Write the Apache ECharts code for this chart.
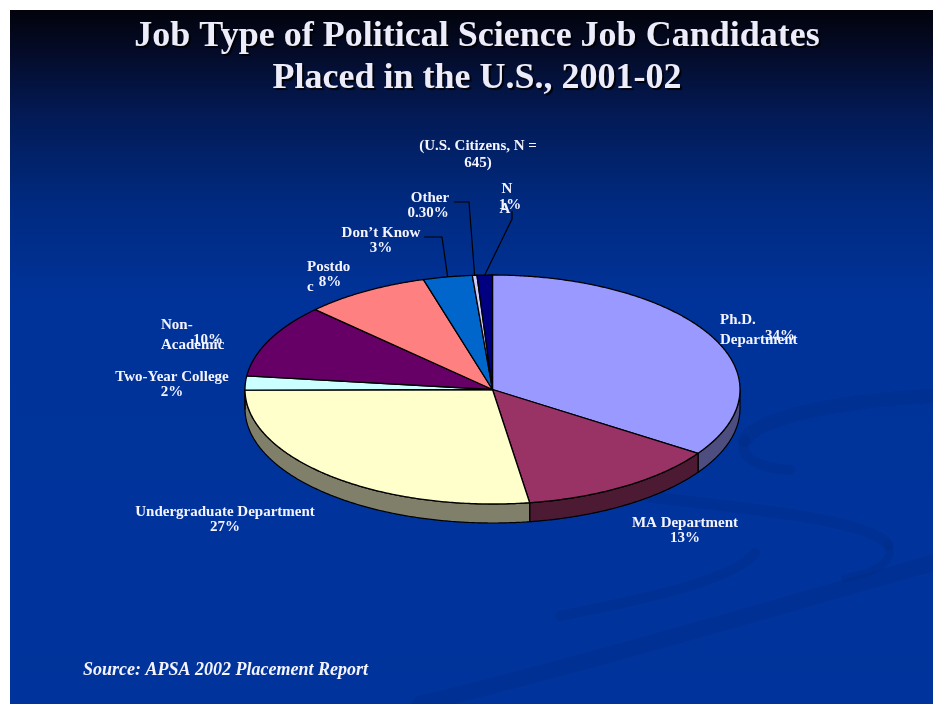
<!DOCTYPE html>
<html><head><meta charset="utf-8">
<script src="https://cdn.jsdelivr.net/npm/echarts@6/dist/echarts.min.js"></script>
<style>html,body{margin:0;padding:0;background:#fff}#c{width:933px;height:704px}</style>
</head><body><div id="c"></div>
<script>
// ---------- data ----------
const categories = ['Ph.D. Department','MA Department','Undergraduate Department','Two-Year College','Non-Academic','Postdoc','Don’t Know','Other','NA'];
const values = [34.4, 13.2, 27.3, 2.0, 10.4, 8.2, 3.2, 0.3, 1.0];
const labelNameLines = [['Ph.D.','Department'],['MA Department'],['Undergraduate Department'],['Two-Year College'],['Non-','Academic'],['Postdo','c'],['Don’t Know'],['Other'],['N','A']];
const titleLines = ['Job Type of Political Science Job Candidates','Placed in the U.S., 2001-02'];
const subtitleLines = ['(U.S. Citizens, N =','645)'];
const sourceText = 'Source: APSA 2002 Placement Report';

// ---------- styles / layout ----------
const sliceColors = ['#9999ff','#993366','#ffffcc','#ccffff','#660066','#ff8080','#0066cc','#ccccff','#000080'];
const sideColors  = ['#4d4d80','#4d1a33','#80806a','#668080','#330033','#804040','#003366','#666680','#000040'];
const PIE = {cx:492.5, cy:389.5, rx:247.5, ry:114.5, depth:19};
const LABEL_LAYOUT = [
 {lines:[[720,320,'left'],[720,340,'left']], pct:[780,336]},
 {lines:[[685,523,'center']], pct:[685,538]},
 {lines:[[225,512,'center']], pct:[225,527]},
 {lines:[[172,377,'center']], pct:[172,392]},
 {lines:[[161,325,'left'],[161,345,'left']], pct:[208,340]},
 {lines:[[307,267,'left'],[307,287,'left']], pct:[330,282]},
 {lines:[[381,233,'center']], pct:[381,248], leader:[[424,237],[442,237]]},
 {lines:[[430,198,'center']], pct:[428,213], leader:[[454,202],[469,202]]},
 {lines:[[507,189,'center'],[505,209,'center']], pct:[510,205], leader:[[512,211],[512,219]]}
];
const LABEL_FONT = 'bold 15px "Liberation Serif", "Times New Roman", serif';
const TEXT_COLOR = '#f4f4ff';

// ---------- geometry ----------
const total = values.reduce((a,b)=>a+b,0);
const starts = []; let acc = 0;
values.forEach(v => { starts.push(acc/total*360); acc += v; });
function rimPoint(deg, dy){ const t = deg*Math.PI/180; return [PIE.cx + PIE.rx*Math.sin(t), PIE.cy - PIE.ry*Math.cos(t) + (dy||0)]; }
function arc(a0, a1, dy){ const n = Math.max(2, Math.ceil(Math.abs(a1-a0)/0.5)+1); const pts=[]; for(let i=0;i<n;i++) pts.push(rimPoint(a0+(a1-a0)*i/(n-1), dy)); return pts; }
function pctText(v){ return v < 1 ? v.toFixed(2)+'%' : Math.round(v)+'%'; }

function renderSide(params, api){
  const i = params.dataIndex, v = api.value(0);
  const a0 = starts[i], a1 = a0 + v/total*360;
  const s = Math.max(a0, 90), e = Math.min(a1, 270);
  if (s >= e) return {type:'group', children:[]};
  const pts = arc(s, e, 0).concat(arc(e, s, PIE.depth));
  return {type:'polygon', shape:{points:pts}, style:{fill:sideColors[i], stroke:'#000', lineWidth:1.2, lineJoin:'round'}};
}
function renderTop(params, api){
  const i = params.dataIndex, v = api.value(0);
  const a0 = starts[i], a1 = a0 + v/total*360;
  const pts = [[PIE.cx, PIE.cy]].concat(arc(a0, a1, 0));
  return {type:'polygon', shape:{points:pts}, style:{fill:sliceColors[i], stroke:'#000', lineWidth:1.3, lineJoin:'round'}};
}

// ---------- graphics ----------
const graphics = [];
graphics.push({type:'rect', z:0, shape:{x:0,y:0,width:933,height:704}, style:{fill:'#ffffff'}});
graphics.push({type:'rect', z:0, shape:{x:10,y:10,width:923,height:694}, style:{fill:new echarts.graphic.LinearGradient(0,0,0,1,[
  {offset:0,color:'#02030c'},{offset:0.06,color:'#040b28'},{offset:0.15,color:'#031a55'},{offset:0.28,color:'#002a80'},{offset:0.42,color:'#00339a'},{offset:1,color:'#00349c'}])}});
// decorative swooshes: [x1,y1,cpx1,cpy1,cpx2,cpy2,x2,y2,width]
const swooshes = [
  [933,396, 850,400, 760,415, 745,440, 14],
  [745,440, 737,458, 760,468, 790,470, 10],
  [650,497, 760,510, 870,520, 888,545, 11],
  [888,545, 896,562, 872,574, 845,578, 8],
  [560,616, 640,600, 735,580, 755,553, 10],
  [420,704, 600,660, 800,600, 933,563, 16]
];
swooshes.forEach(s => graphics.push({type:'bezierCurve', z:1, shape:{x1:s[0],y1:s[1],cpx1:s[2],cpy1:s[3],cpx2:s[4],cpy2:s[5],x2:s[6],y2:s[7]}, style:{fill:null, stroke:'#002b84', lineWidth:s[8], opacity:0.35, lineCap:'round'}}));

titleLines.forEach((t, k) => graphics.push({type:'text', z:100, x:477, y:37 + k*42, style:{text:t, textAlign:'center', textVerticalAlign:'middle', fill:'#ececfa', font:'bold 36px "Liberation Serif", "Times New Roman", serif', textShadowColor:'rgba(0,0,0,0.9)', textShadowOffsetX:2, textShadowOffsetY:2, textShadowBlur:1}}));
subtitleLines.forEach((t, k) => graphics.push({type:'text', z:100, x:478, y:146 + k*17, style:{text:t, textAlign:'center', textVerticalAlign:'middle', fill:TEXT_COLOR, font:LABEL_FONT}}));
graphics.push({type:'text', z:100, x:83, y:670, style:{text:sourceText, textAlign:'left', textVerticalAlign:'middle', fill:TEXT_COLOR, font:'italic bold 18px "Liberation Serif", "Times New Roman", serif'}});

categories.forEach((c, i) => {
  const L = LABEL_LAYOUT[i];
  labelNameLines[i].forEach((line, k) => {
    const p = L.lines[k];
    graphics.push({type:'text', z:100, x:p[0], y:p[1], style:{text:line, textAlign:p[2], textVerticalAlign:'middle', fill:TEXT_COLOR, font:LABEL_FONT}});
  });
  graphics.push({type:'text', z:100, x:L.pct[0], y:L.pct[1], style:{text:pctText(values[i]), textAlign:'center', textVerticalAlign:'middle', fill:TEXT_COLOR, font:LABEL_FONT}});
  if (L.leader) {
    const mid = starts[i] + values[i]/total*180;
    const pts = L.leader.concat([rimPoint(mid, 0)]);
    graphics.push({type:'polyline', z:100, shape:{points:pts}, style:{fill:null, stroke:'#000', lineWidth:1.2}});
  }
});

const chart = echarts.init(document.getElementById('c'), null, {renderer:'canvas'});
const seriesData = categories.map((c, i) => ({name:c, value:values[i]}));
chart.setOption({
  animation:false,
  graphic:{elements:graphics},
  series:[
    {type:'custom', coordinateSystem:'none', z:5, silent:true, renderItem:renderSide, data:seriesData},
    {type:'custom', coordinateSystem:'none', z:6, silent:true, renderItem:renderTop, data:seriesData}
  ]
});
</script></body></html>
